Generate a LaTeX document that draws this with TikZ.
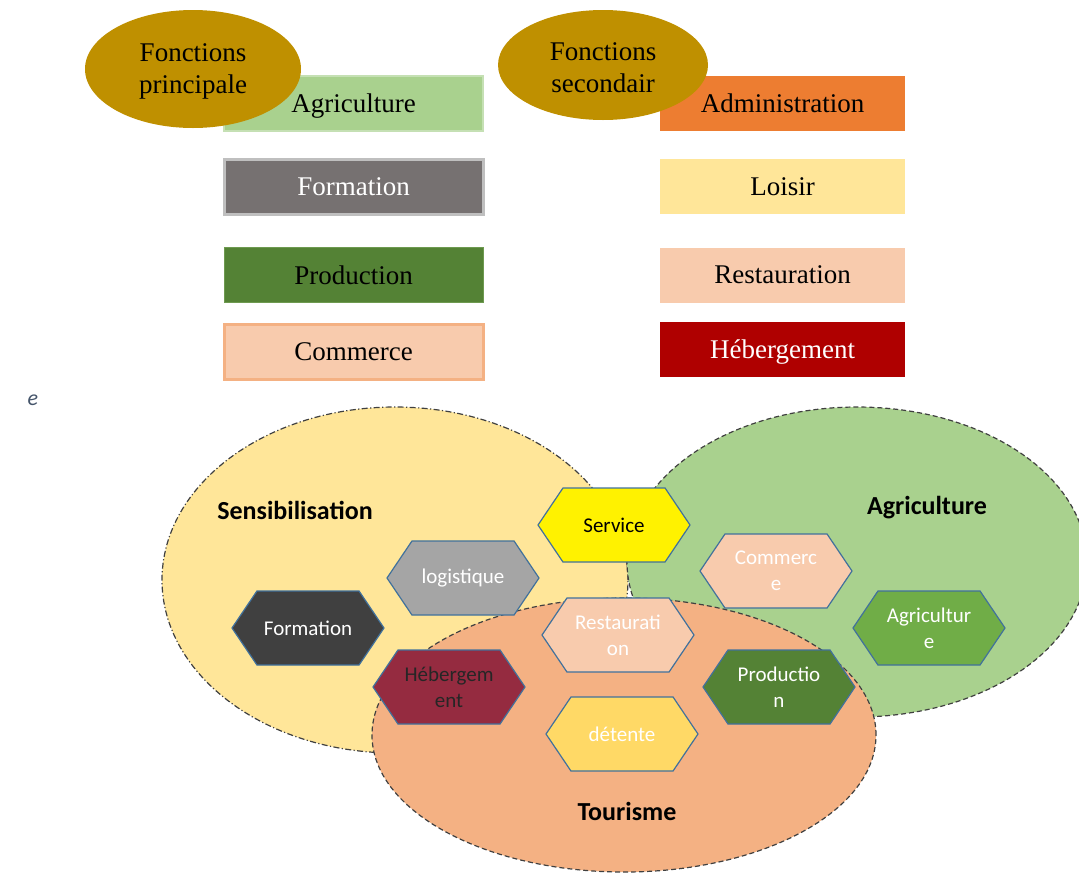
\documentclass[tikz,border=0pt]{standalone}
\usepackage{fontspec}
\setmainfont{Liberation Serif}
\newfontfamily\carlito{Carlito}
\usepackage{tikz}
\usetikzlibrary{positioning}
\usetikzlibrary{shapes.geometric,shapes.symbols}

\definecolor{olivgold}{HTML}{BF9000}
\definecolor{agrigreen}{HTML}{A9D18E}
\definecolor{agriborder}{HTML}{C5E0B4}
\definecolor{formgray}{HTML}{767171}
\definecolor{formborder}{HTML}{BFBFBF}
\definecolor{prodgreen}{HTML}{548235}
\definecolor{prodborder}{HTML}{6E9A50}
\definecolor{peach}{HTML}{F8CBAD}
\definecolor{peachborder}{HTML}{F4B183}
\definecolor{adminorange}{HTML}{ED7D31}
\definecolor{loisiryellow}{HTML}{FFE699}
\definecolor{hebred}{HTML}{AF0000}
\definecolor{sensyellow}{HTML}{FFE699}
\definecolor{tourorange}{HTML}{F4B183}
\definecolor{hexborder}{HTML}{41719C}
\definecolor{logigray}{HTML}{A5A5A5}
\definecolor{formdark}{HTML}{404040}
\definecolor{hebmaroon}{HTML}{952B40}
\definecolor{leafgreen}{HTML}{70AD47}
\definecolor{detyellow}{HTML}{FFD966}
\definecolor{slate}{HTML}{44546A}

\begin{document}
\begin{tikzpicture}[x=0.5pt,y=-0.5pt,
    fonction/.style={rectangle, minimum height=27.5pt, inner sep=0pt, text depth=0pt,
        font=\fontsize{13.5}{16}\selectfont},
    titre/.style={ellipse, fill=olivgold, align=center, inner sep=0pt,
        font=\fontsize{13.5}{16}\selectfont},
    zone/.style={ellipse, draw=black!75, line width=0.6pt, inner sep=0pt},
    hexa/.style={signal, signal to=east and west, signal pointer angle=112,
        draw=hexborder, line width=0.6pt, minimum width=76pt, minimum height=37pt,
        inner sep=0pt, align=center, text=white,
        font=\carlito\fontsize{10.5}{13}\selectfont},
    etiquette/.style={font=\carlito\bfseries\fontsize{13}{15}\selectfont}]
    \useasboundingbox (0,0) rectangle (1079,873);

    % fonctions principales / secondaires
    \foreach \nom/\y/\txt/\fond/\bord/\lw/\ecrit in {agri/103.5/Agriculture/agrigreen/agriborder/1pt/black,
        form/187/Formation/formgray/formborder/1.5pt/white,
        prod/275/Production/prodgreen/prodborder/0.5pt/black,
        comm/351.5/Commerce/peach/peachborder/1.5pt/black}{
        \node[fonction, minimum width=129.5pt, fill=\fond, draw=\bord, line width=\lw, text=\ecrit] (p-\nom) at (353.5,\y) {\txt};
    }
    \foreach \nom/\y/\txt/\fond/\ecrit in {admin/103.5/Administration/adminorange/black,
        loisir/186.5/Loisir/loisiryellow/black,
        resto/275/Restauration/peach/black,
        heber/349/Hébergement/hebred/white}{
        \node[fonction, minimum width=122.5pt, fill=\fond, text=\ecrit] (s-\nom) at (782.5,\y) {\txt};
    }
    \node[titre, minimum width=108pt, minimum height=59pt] (principale) at (193,69) {\strut Fonctions\\principale};
    \node[titre, minimum width=105pt, minimum height=55pt] (secondaire) at (603,65) {\strut Fonctions\\secondair};

    \node[font=\carlito\itshape\fontsize{11}{13}\selectfont, text=slate] (e) at (33,400) {e};

    % les trois zones
    \node[zone, fill=sensyellow, dash pattern=on 3pt off 1.2pt on 0.6pt off 1.2pt,
        minimum width=233pt, minimum height=173pt] (sensib) at (395,580) {};
    \node[zone, fill=agrigreen, dash pattern=on 2.5pt off 1.5pt,
        minimum width=230pt, minimum height=155pt] (agricult) at (857,562) {};
    \node[zone, fill=tourorange, dash pattern=on 2.5pt off 1.5pt,
        minimum width=252pt, minimum height=137pt] (tourisme) at (624,735) {};

    \node[etiquette] (l-sensib) at (295,510) {Sensibilisation};
    \node[etiquette] (l-agri) at (927,508) {Agriculture};
    \node[etiquette] (l-tour) at (627,811) {Tourisme};

    % hexagones
    \node[hexa, fill=yellow, text=black] (hx-service) at (614,525) {Service};
    \node[hexa, fill=logigray] (hx-logi) at (463,578) {logistique};
    \node[hexa, fill=formdark] (hx-form) at (308,628) {Formation};
    \node[hexa, fill=peach] (hx-resto) at (618,635) {Restaurati\\on};
    \node[hexa, fill=peach] (hx-comm) at (776,571) {Commerc\\e};
    \node[hexa, fill=leafgreen] (hx-agri) at (929,628) {Agricultur\\e};
    \node[hexa, fill=hebmaroon, text=black!85] (hx-heber) at (449,687) {Hébergem\\ent};
    \node[hexa, fill=prodgreen] (hx-prod) at (779,687) {Productio\\n};
    \node[hexa, fill=detyellow] (hx-detente) at (622,734) {détente};
\end{tikzpicture}
\end{document}
